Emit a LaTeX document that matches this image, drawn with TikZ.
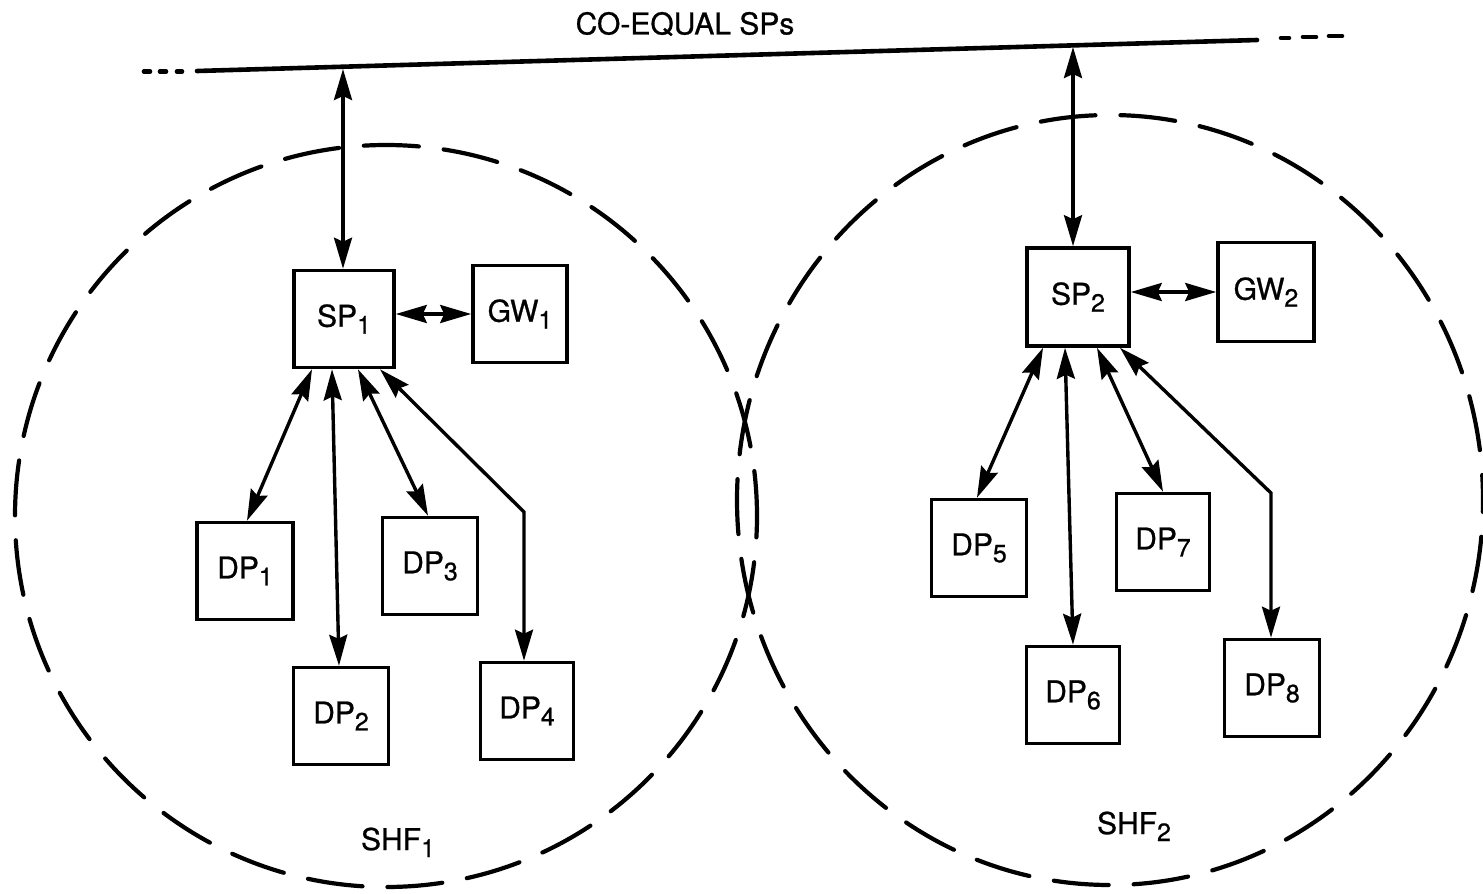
\documentclass[tikz,border=0pt]{standalone}
\usepackage{fontspec}
\setmainfont[FakeBold=0.8]{TeX Gyre Heros}
\usetikzlibrary{arrows.meta}
% lowered index digit, set almost as large as the label itself
\newcommand\lowidx[1]{\raisebox{-7pt}{\fontsize{25}{25}\selectfont #1}}

\begin{document}
\begin{tikzpicture}[x=1pt,y=-1pt,
  >={Stealth[length=31pt,width=18pt,inset=4pt]},
  box/.style={draw,line width=3.6pt,inner sep=0pt,minimum width=95pt,minimum height=97pt,
    font=\fontsize{30}{36}\selectfont},
  link/.style={line width=3.4pt,<->},
  shf/.style={line width=4.2pt,dash pattern=on 55pt off 25pt,line cap=round},
  bus/.style={line width=4.6pt,line cap=round},
  lbl/.style={font=\fontsize{30}{36}\selectfont,inner sep=0pt}]

\useasboundingbox (0,0) rectangle (1483,894);

% service host facilities
\draw[shf,dash phase=10pt] (386,516) ellipse [x radius=371pt,y radius=371pt];
\draw[shf,dash phase=30pt] (1110,500) ellipse [x radius=373pt,y radius=385pt];

% co-equal SP bus
\node[lbl] (title) at (685,24) {CO-EQUAL SPs};
\coordinate (busL) at (197,71);
\coordinate (busR) at (1257,40);
\draw[bus] (busL) -- (busR);
\foreach \a/\b in {144/150,160/166,177/182}
  \draw[bus] (\a,71.5) -- (\b,71.5);
\draw[bus] (1281,38) -- (1289,38);
\draw[bus] (1303,37) -- (1316,37);
\draw[bus] (1329,36) -- (1342,36);

% nodes of SHF 1
\node[box,minimum width=100pt] (sp1) at (344,319) {SP\lowidx{1}};
\node[box,minimum width=94pt] (gw1) at (520,314) {GW\lowidx{1}};
\node[box,minimum width=96pt] (dp1) at (245,571) {DP\lowidx{1}};
\node[box] (dp2) at (341,716) {DP\lowidx{2}};
\node[box] (dp3) at (430,566) {DP\lowidx{3}};
\node[box,minimum width=93pt] (dp4) at (527,711) {DP\lowidx{4}};
\node[lbl,anchor=base] (shf1) at (398,850) {SHF\lowidx{1}};

% nodes of SHF 2
\node[box,minimum width=102pt,minimum height=98pt] (sp2) at (1078,297) {SP\lowidx{2}};
\node[box,minimum width=96pt,minimum height=99pt] (gw2) at (1266,292) {GW\lowidx{2}};
\node[box] (dp5) at (979,548) {DP\lowidx{5}};
\node[box,minimum width=93pt] (dp6) at (1073,695) {DP\lowidx{6}};
\node[box,minimum width=93pt] (dp7) at (1163,542) {DP\lowidx{7}};
\node[box] (dp8) at (1272,688) {DP\lowidx{8}};
\node[lbl,anchor=base] (shf2) at (1134,834) {SHF\lowidx{2}};

% links to the bus
\coordinate (up1) at (343,69);
\coordinate (up2) at (1073,47);
\draw[link] (up1) -- (up1 |- sp1.north);
\draw[link] (up2) -- (up2 |- sp2.north);

% gateway links
\draw[link] (sp1.east |- gw1.west) -- (gw1.west);
\draw[link] (sp2.east |- gw2.west) -- (gw2.west);

% data processor links, SHF 1
\coordinate (k4) at (524,512);
\draw[link] ([xshift=-32pt]sp1.south) -- ([xshift=2pt]dp1.north);
\draw[link] ([xshift=-12pt]sp1.south) -- ([xshift=-2pt]dp2.north);
\draw[link] ([xshift=14pt]sp1.south) -- ([xshift=-2pt]dp3.north);
\draw[link] ([xshift=36pt]sp1.south) -- (k4) -- (k4 |- dp4.north);

% data processor links, SHF 2
\coordinate (k8) at (1271,493);
\draw[link] ([xshift=-35pt]sp2.south) -- ([xshift=-2pt]dp5.north);
\draw[link] ([xshift=-13pt]sp2.south) -- (dp6.north);
\draw[link] ([xshift=19pt]sp2.south) -- (dp7.north);
\draw[link] ([xshift=42pt]sp2.south) -- (k8) -- (k8 |- dp8.north);
\end{tikzpicture}
\end{document}
